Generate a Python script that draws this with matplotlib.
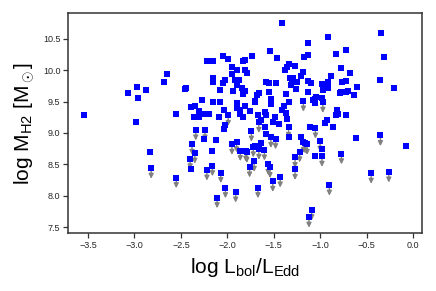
import matplotlib
matplotlib.use("Agg")
import matplotlib.pyplot as plt
import numpy as np

plt.rcParams['font.family'] = ['Liberation Sans', 'DejaVu Sans']
plt.rcParams['mathtext.fontset'] = 'custom'
plt.rcParams['mathtext.rm'] = 'Liberation Sans'
plt.rcParams['mathtext.it'] = 'Liberation Sans:italic'

# detections: log Lbol/LEdd, log MH2
det_x = [-2.65, -2.68, -2.97, -3.07, -2.88, -2.96, -2.46, -2.44, -3.54, -2.98,
         -2.55, -2.39, -2.83, -2.05, -1.99, -2.22, -2.15, -1.83, -1.81, -1.73,
         -1.54, -1.95, -1.89, -1.81, -1.79, -1.95, -2.15, -2.15, -2.03, -2.05,
         -1.92, -1.87, -1.89, -1.84, -1.81, -1.83, -1.94, -2.08, -1.58, -1.55,
         -1.66, -1.68, -1.55, -1.70, -1.70, -2.27, -2.15, -2.08, -1.89, -1.81,
         -2.35, -2.30, -2.26, -2.20, -2.04, -1.90, -1.86, -1.75, -1.86, -1.83,
         -1.67, -1.59, -1.58, -2.36, -2.31, -2.09, -1.64, -2.25, -2.39, -2.12,
         -2.16, -2.02, -2.04, -1.59, -1.58, -1.70, -1.64, -1.41, -0.91, -1.13,
         -1.46, -1.17, -1.13, -0.83, -0.72, -1.34, -1.36, -1.38, -1.27, -1.18,
         -1.21, -1.32, -1.29, -1.30, -1.25, -1.31, -1.26, -1.13, -1.10, -0.98,
         -0.92, -0.88, -0.68, -0.76, -0.72, -0.92, -0.97, -0.79, -0.77, -0.72,
         -0.70, -1.48, -1.37, -1.13, -1.04, -1.06, -1.08, -0.98, -1.53, -1.53,
         -1.34, -1.05, -1.39, -1.41, -1.37, -0.82, -0.81, -0.83, -0.72, -0.93,
         -0.95, -1.49, -1.51, -1.44, -1.36, -1.11, -0.86, -1.33, -1.21, -1.06,
         -0.98, -0.61, -0.07, -0.34, -0.31, -0.78, -0.36, -0.20, -0.60, -0.63]
det_y = [9.94, 9.82, 9.74, 9.64, 9.68, 9.56, 9.70, 9.71, 9.28, 9.17,
         9.30, 9.41, 8.69, 10.23, 10.18, 10.14, 10.14, 10.14, 10.16, 10.22,
         10.30, 10.05, 10.01, 10.01, 9.96, 9.94, 9.88, 9.81, 9.85, 9.79,
         9.84, 9.85, 9.76, 9.71, 9.67, 9.62, 9.67, 9.69, 9.81, 9.80,
         9.64, 9.60, 9.65, 9.51, 9.49, 9.52, 9.50, 9.49, 9.48, 9.43,
         9.43, 9.35, 9.31, 9.30, 9.36, 9.39, 9.37, 9.35, 9.30, 9.25,
         9.29, 9.34, 9.29, 9.26, 9.25, 9.25, 9.21, 8.91, 8.42, 8.88,
         8.72, 9.12, 9.07, 9.10, 8.99, 8.79, 8.84, 10.75, 10.53, 10.43,
         10.20, 10.21, 10.25, 10.26, 10.32, 10.10, 10.05, 10.00, 10.07, 9.97,
         9.90, 9.87, 9.87, 9.82, 9.81, 9.76, 9.70, 9.83, 9.79, 9.78,
         9.82, 9.90, 9.95, 9.81, 9.83, 9.71, 9.69, 9.64, 9.66, 9.66,
         9.67, 9.80, 9.62, 9.65, 9.58, 9.54, 9.53, 9.56, 9.54, 9.46,
         9.50, 9.48, 9.43, 9.37, 9.32, 9.36, 9.30, 9.28, 9.28, 9.21,
         9.16, 9.26, 9.18, 9.15, 9.23, 9.10, 9.10, 8.93, 8.93, 8.63,
         8.74, 8.92, 8.80, 10.60, 10.21, 10.04, 9.84, 9.72, 9.74, 9.60]

# upper limits
lim_x = [-2.82, -2.55, -2.34, -2.24, -2.38, -2.35, -2.40, -2.22, -2.16, -2.07,
         -2.02, -2.11, -1.91, -1.95, -1.90, -1.86, -1.80, -1.79, -1.76, -1.99,
         -1.74, -1.66, -1.53, -1.72, -1.66, -1.60, -1.71, -1.56, -1.54, -1.67,
         -1.18, -0.97, -1.34, -1.05, -1.48, -1.18, -1.16, -1.14, -1.22, -1.27,
         -1.00, -0.98, -0.77, -1.27, -1.51, -1.43, -0.90, -1.12, -1.09, -0.35,
         -0.45, -0.26]
lim_y = [8.44, 8.29, 9.05, 9.05, 8.82, 8.68, 8.59, 8.41, 8.48, 8.37,
         8.13, 7.97, 8.06, 8.82, 8.86, 8.72, 8.71, 8.69, 8.46, 9.28,
         9.03, 9.17, 8.93, 8.78, 8.74, 8.73, 8.55, 8.50, 8.45, 8.13,
         9.51, 9.49, 9.09, 9.08, 8.91, 8.85, 8.84, 8.82, 8.70, 8.61,
         8.87, 8.63, 8.67, 8.42, 8.23, 8.30, 8.17, 7.66, 7.78, 8.96,
         8.36, 8.38]

fig = plt.figure(figsize=(4.36, 2.91), dpi=100)
ax = fig.add_axes([0.156, 0.198, 0.813, 0.757])

arrow_len = 0.17
for x, y in zip(lim_x, lim_y):
    ax.annotate('', xy=(x, y - arrow_len), xytext=(x, y),
                arrowprops=dict(arrowstyle='-|>', color='#808080', lw=1.0,
                                mutation_scale=7, shrinkA=0, shrinkB=0),
                zorder=2)

ax.scatter(det_x + lim_x, det_y + lim_y, marker='s', s=14, color='blue',
           linewidths=0, zorder=3)

ax.set_xlim(-3.716, 0.103)
ax.set_ylim(7.40, 10.91)
ax.set_xticks(np.arange(-3.5, 0.01, 0.5))
ax.set_yticks(np.arange(7.5, 10.51, 0.5))

for s in ax.spines.values():
    s.set_color('#333333')
    s.set_linewidth(1.1)
ax.tick_params(direction='out', length=3.5, width=0.9, color='#333333',
               labelsize=6.5, labelcolor='#262626', pad=2)

ax.set_xlabel(r'log L$_{\rm bol}$/L$_{\rm Edd}$', fontsize=15, labelpad=4)
ax.set_ylabel(r'log M$_{\rm H2}$ [M$_\odot$]', fontsize=15, labelpad=4)

fig.savefig('out.png', dpi=100)
